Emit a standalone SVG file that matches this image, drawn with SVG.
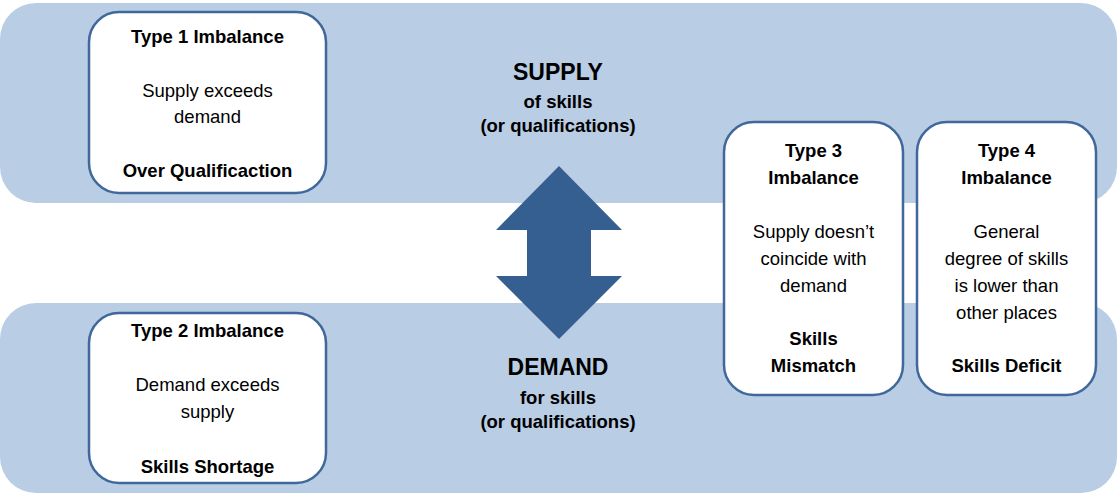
<svg xmlns="http://www.w3.org/2000/svg" width="1117" height="494" viewBox="0 0 1117 494">
<style>
.band{fill:#B9CDE5;}
.box{fill:#FFFFFF;stroke:#41689A;stroke-width:2.5;}
text{font-family:"Liberation Sans",Arial,sans-serif;fill:#000;text-anchor:middle;}
.t{font-size:18.5px;font-weight:bold;}
.b{font-size:18.5px;}
.big{font-size:23px;font-weight:bold;}
.sub{font-size:18.5px;font-weight:bold;}
</style>
<rect width="1117" height="494" fill="#FFFFFF"/>
<g id="bands">
<rect class="band" x="0" y="3" width="1117" height="200" rx="36" ry="36"/>
<rect class="band" x="0" y="303" width="1117" height="190" rx="36" ry="36"/>
</g>
<g id="connectors">
<polygon fill="#365F91" points="559,166 622,230 591,230 591,276 622,276 559,339 496,276 527,276 527,230 496,230"/>
</g>
<g id="supply-label">
<text class="big" x="558" y="80">SUPPLY</text>
<text class="sub" x="558" y="108">of skills</text>
<text class="sub" x="558" y="132">(or qualifications)</text>
</g>
<g id="demand-label">
<text class="big" x="558" y="375">DEMAND</text>
<text class="sub" x="558" y="404">for skills</text>
<text class="sub" x="558" y="428">(or qualifications)</text>
</g>
<g id="type1">
<rect class="box" x="89" y="12" width="237" height="181" rx="30" ry="30"/>
<text class="t" x="207.5" y="43">Type 1 Imbalance</text>
<text class="b" x="207.5" y="97">Supply exceeds</text>
<text class="b" x="207.5" y="123">demand</text>
<text class="t" x="207.5" y="177">Over Qualificaction</text>
</g>
<g id="type2">
<rect class="box" x="89" y="313" width="237" height="170" rx="30" ry="30"/>
<text class="t" x="207.5" y="337">Type 2 Imbalance</text>
<text class="b" x="207.5" y="391">Demand exceeds</text>
<text class="b" x="207.5" y="418">supply</text>
<text class="t" x="207.5" y="473">Skills Shortage</text>
</g>
<g id="type3">
<rect class="box" x="724" y="122" width="179" height="273" rx="30" ry="30"/>
<text class="t" x="813.5" y="157">Type 3</text>
<text class="t" x="813.5" y="184">Imbalance</text>
<text class="b" x="813.5" y="238">Supply doesn’t</text>
<text class="b" x="813.5" y="265">coincide with</text>
<text class="b" x="813.5" y="292">demand</text>
<text class="t" x="813.5" y="345">Skills</text>
<text class="t" x="813.5" y="372">Mismatch</text>
</g>
<g id="type4">
<rect class="box" x="917" y="122" width="179" height="273" rx="30" ry="30"/>
<text class="t" x="1006.5" y="157">Type 4</text>
<text class="t" x="1006.5" y="184">Imbalance</text>
<text class="b" x="1006.5" y="238">General</text>
<text class="b" x="1006.5" y="265">degree of skills</text>
<text class="b" x="1006.5" y="292">is lower than</text>
<text class="b" x="1006.5" y="319">other places</text>
<text class="t" x="1006.5" y="372">Skills Deficit</text>
</g>
</svg>
